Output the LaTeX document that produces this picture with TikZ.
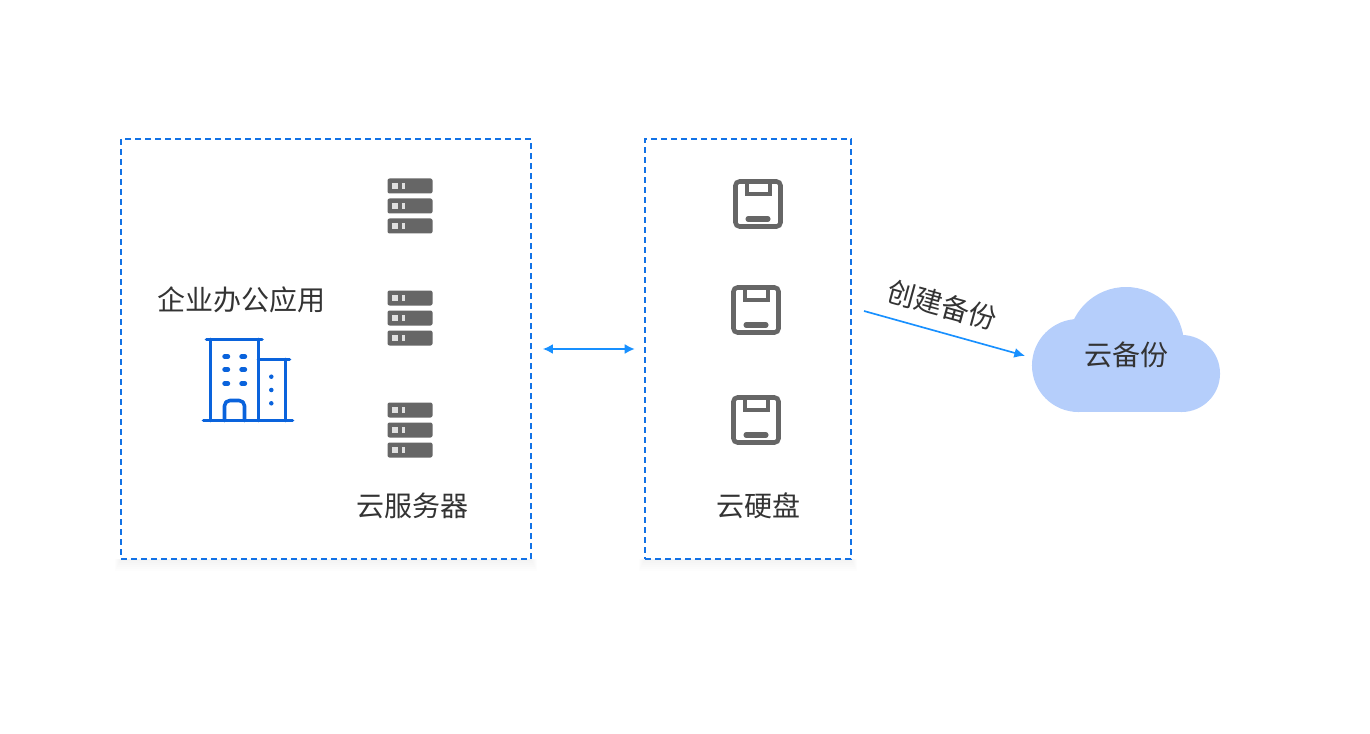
\documentclass[tikz,border=0pt]{standalone}
\usepackage{fontspec}
\setmainfont{Noto Sans CJK SC}
\usetikzlibrary{arrows.meta}
\definecolor{boxblue}{HTML}{1272E6}
\definecolor{linkblue}{HTML}{1890FF}
\definecolor{iconblue}{HTML}{0A63DC}
\definecolor{icongray}{HTML}{666666}
\definecolor{cloudblue}{HTML}{B5CEFB}
\definecolor{textgray}{HTML}{333333}
\tikzset{
  dashbox/.style={draw=boxblue, line width=1.5pt, dash pattern=on 4.5pt off 3pt, inner sep=0pt, minimum height=315pt},
  boxglow/.style={fill=black, opacity=0.006},
  label/.style={text=textgray, font=\fontsize{21pt}{24pt}\selectfont, inner sep=0pt},
  link/.style={draw=linkblue, line width=1.25pt},
  bldg/.style={draw=iconblue, line width=2.7pt, line cap=round, line join=round},
  windowdash/.style={draw=iconblue, line width=3.3pt, line cap=round},
  serverbar/.style={fill=icongray, rounded corners=1.5pt},
  serverled/.style={fill=white, opacity=0.8},
  diskline/.style={draw=icongray, line width=3.4pt, rounded corners=3pt},
  servericon/.pic={
    \foreach \y in {-20,0,20} {
      \fill[serverbar] (-22.5,\y-7.5) rectangle (22.5,\y+7.5);
      \fill[serverled] (-17.7,\y-2.6) rectangle (-12.3,\y+2.6);
      \fill[serverled] (-7.7,\y-2.6) rectangle (-5,\y+2.6);
    }
  },
  diskicon/.pic={
    \draw[diskline] (-22.5,-22.5) rectangle (22.5,22.5);
    \draw[icongray, line width=3pt] (-11.5,-23) -- (-11.5,-10) -- (11.5,-10) -- (11.5,-23);
    \draw[icongray, line width=3.8pt, line cap=round] (-10,15) -- (10,15);
  }
}
\begin{document}
\begin{tikzpicture}[x=0.75pt, y=-0.75pt]
\useasboundingbox (0,0) rectangle (1370,734);
\foreach \g in {1,...,6} {
  \fill[boxglow] (121-\g,559) rectangle (531+\g,559+2*\g);
  \fill[boxglow] (645-\g,559) rectangle (851+\g,559+2*\g);
}
\node[dashbox, minimum width=307.5pt] (appbox) at (326,349) {};
\node[dashbox, minimum width=154.5pt] (diskbox) at (748,349) {};

\node[label] (applabel) at (241,300) {企业办公应用};
\draw[bldg] (206.5,339.5) -- (262,339.5);
\draw[bldg] (210.5,339.5) -- (210.5,420.5);
\draw[bldg] (258.5,339.5) -- (258.5,420.5);
\draw[bldg] (258.5,359.5) -- (289.5,359.5);
\draw[bldg] (285.5,359.5) -- (285.5,420.5);
\draw[bldg] (203.5,420.5) -- (292.5,420.5);
\draw[bldg, rounded corners=4pt] (224.5,420.5) -- (224.5,400.5) -- (244.5,400.5) -- (244.5,420.5);
\foreach \y in {356.5,369.5,383.5} {
  \draw[windowdash] (224.5,\y) -- (228,\y);
  \draw[windowdash] (241.5,\y) -- (245,\y);
}
\foreach \y in {376.7,390,403.3} {
  \fill[iconblue] (271.3,\y) circle (1.7pt);
}

\pic at (410,206) {servericon};
\pic at (410,318) {servericon};
\pic at (410,430) {servericon};
\node[label] (serverlabel) at (412.5,506) {云服务器};

\pic at (758,204) {diskicon};
\pic at (756,310) {diskicon};
\pic at (756,420) {diskicon};
\node[label] (disklabel) at (758.5,506) {云硬盘};

\draw[link, {Latex[length=7.5pt,width=7.5pt]}-{Latex[length=7.5pt,width=7.5pt]}, shorten <=8.2pt, shorten >=7pt] (appbox.east) -- (diskbox.west);

\fill[cloudblue] (1078.5,365.5) circle (34.9pt);
\fill[cloudblue] (1126,345) circle (43.5pt);
\fill[cloudblue] (1181.5,373.5) circle (28.9pt);
\fill[cloudblue] (1078.5,373) rectangle (1181.5,412.4);
\node[label] (cloudlabel) at (1126,355) {云备份};

\coordinate (backupfrom) at (864,311);
\coordinate (backupto) at (1025,355.8);
\draw[link, -{Latex[length=8pt,width=7.5pt]}] (backupfrom) -- (backupto);
\node[label, rotate=-15.4] (backuplabel) at (942,305) {创建备份};
\end{tikzpicture}
\end{document}
